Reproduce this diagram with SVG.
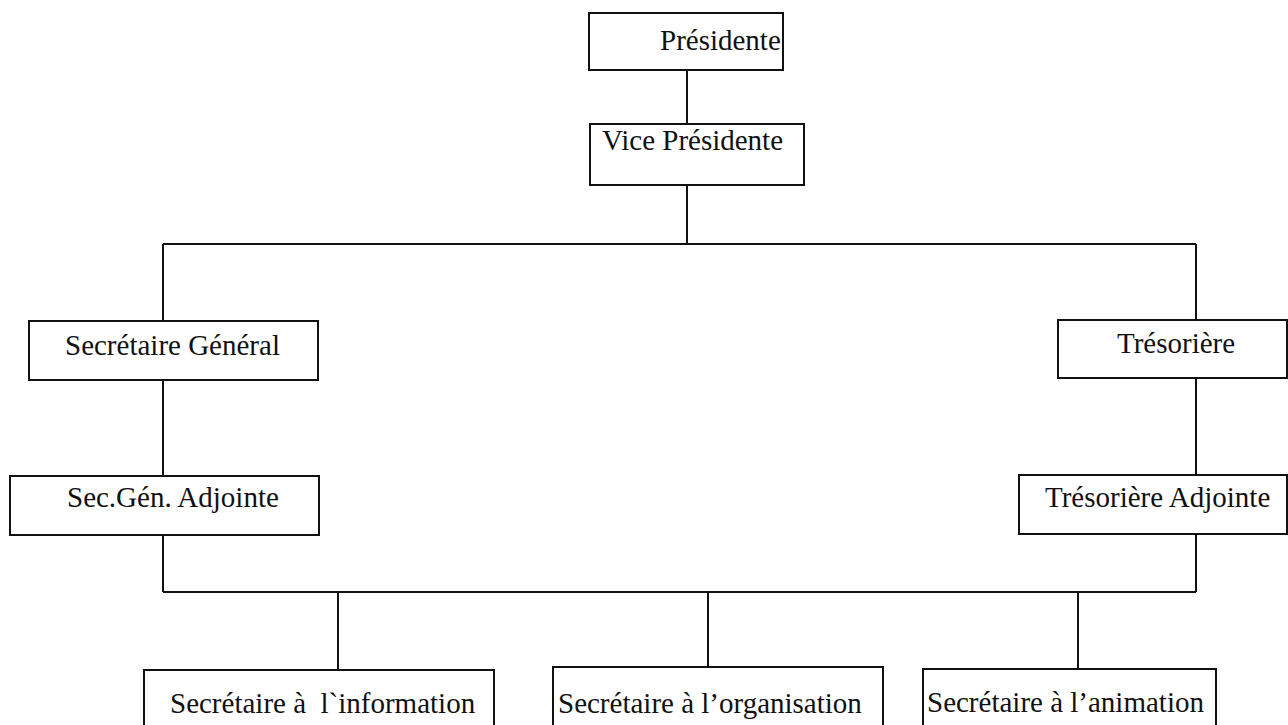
<svg xmlns="http://www.w3.org/2000/svg" width="1288" height="725" viewBox="0 0 1288 725">
  <style>
    .box { fill: #ffffff; stroke: #111111; stroke-width: 2; }
    .lbl { font-family: "Liberation Serif", "Times New Roman", serif; font-size: 29px; fill: #111111; }
    .link { fill: none; stroke: #111111; stroke-width: 2; }
  </style>
  <rect x="0" y="0" width="1288" height="725" fill="#ffffff"/>

  <!-- connectors -->
  <g id="connectors">
    <path class="link" d="M687,70 V124"/>
    <path class="link" d="M687,185 V244"/>
    <path class="link" d="M163,244 H1196"/>
    <path class="link" d="M163,244 V321"/>
    <path class="link" d="M163,380 V476"/>
    <path class="link" d="M163,535 V592"/>
    <path class="link" d="M1196,244 V320"/>
    <path class="link" d="M1196,378 V475"/>
    <path class="link" d="M1196,534 V592"/>
    <path class="link" d="M163,592 H1196"/>
    <path class="link" d="M338,592 V670"/>
    <path class="link" d="M708,592 V667"/>
    <path class="link" d="M1078,592 V669"/>
  </g>

  <!-- nodes -->
  <g id="presidente">
    <rect class="box" x="589" y="13" width="194" height="57"/>
    <text class="lbl" x="660" y="50">Présidente</text>
  </g>
  <g id="vice-presidente">
    <rect class="box" x="590" y="124" width="214" height="61"/>
    <text class="lbl" x="602" y="150">Vice Présidente</text>
  </g>
  <g id="secretaire-general">
    <rect class="box" x="29" y="321" width="289" height="59"/>
    <text class="lbl" x="65" y="355">Secrétaire Général</text>
  </g>
  <g id="tresoriere">
    <rect class="box" x="1058" y="320" width="229" height="58"/>
    <text class="lbl" x="1117" y="353">Trésorière</text>
  </g>
  <g id="sec-gen-adjointe">
    <rect class="box" x="10" y="476" width="309" height="59"/>
    <text class="lbl" x="67" y="507">Sec.Gén. Adjointe</text>
  </g>
  <g id="tresoriere-adjointe">
    <rect class="box" x="1019" y="475" width="268" height="59"/>
    <text class="lbl" x="1045" y="507">Trésorière Adjointe</text>
  </g>
  <g id="secretaire-information">
    <rect class="box" x="144" y="670" width="350" height="70"/>
    <text class="lbl" x="170" y="713" xml:space="preserve">Secrétaire à  l`information</text>
  </g>
  <g id="secretaire-organisation">
    <rect class="box" x="553" y="667" width="330" height="70"/>
    <text class="lbl" x="558" y="713">Secrétaire à l’organisation</text>
  </g>
  <g id="secretaire-animation">
    <rect class="box" x="923" y="669" width="293" height="70"/>
    <text class="lbl" x="927" y="712">Secrétaire à l’animation</text>
  </g>
</svg>
